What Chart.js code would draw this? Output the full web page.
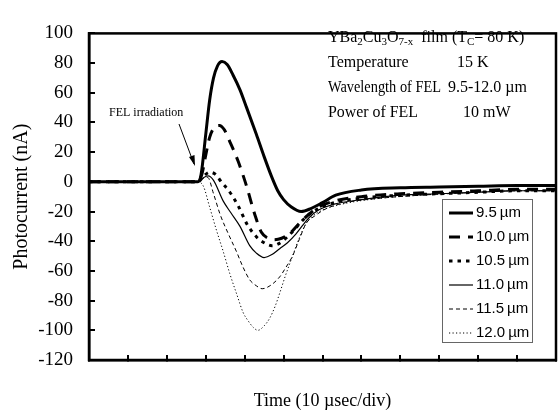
<!DOCTYPE html>
<html>
<head>
<meta charset="utf-8">
<script src="https://cdn.jsdelivr.net/npm/chart.js@4.4.0/dist/chart.umd.min.js"></script>
<style>
  html, body { margin: 0; padding: 0; background: #fff; }
</style>
</head>
<body>
<canvas id="photo" width="559" height="417"></canvas>
<script>
// time axis in divisions (10 usec/div), photocurrent in nA
const t95 = [0, 1, 2, 2.8, 2.88, 3.0, 3.1, 3.2, 3.3, 3.42, 3.55, 3.7, 3.88, 4.05, 4.3, 4.5, 4.7, 4.85, 5.0, 5.2, 5.45, 5.7, 6.0, 6.34, 7, 8, 9, 10, 11, 12];
const i95 = [0, 0, 0, 0, 5, 32, 55, 70, 78, 81, 79, 72, 62, 50, 32, 17, 3, -6, -12, -17, -20, -18, -14, -9, -5.5, -4, -3.5, -3, -2.5, -2.5];

const t100 = [0, 1, 2, 2.8, 2.9, 3.0, 3.1, 3.2, 3.35, 3.48, 3.62, 3.83, 4.05, 4.26, 4.43, 4.6, 4.75, 4.95, 5.15, 5.4, 5.6, 5.9, 6.3, 7, 8, 9, 10, 11, 12];
const i100 = [0, 0, 0, 0, 5, 18, 30, 36, 38, 35, 27, 14, -3, -22, -34, -38, -39, -38, -35, -28, -23, -17, -13, -10, -8, -7, -6, -5, -5];

const t105 = [0, 1, 2, 2.8, 2.95, 3.1, 3.25, 3.4, 3.62, 3.85, 4.05, 4.3, 4.5, 4.7, 4.85, 5.1, 5.35, 5.6, 5.9, 6.3, 7, 8, 9, 10, 11, 12];
const i105 = [0, 0, 0, 0, 4, 6.5, 5, 0, -7, -17, -28, -37, -41, -43, -42, -37, -30, -23, -18, -14, -11, -9, -8, -7, -6, -6];

const t110 = [0, 1, 2, 2.8, 2.95, 3.06, 3.2, 3.45, 3.65, 3.88, 4.13, 4.3, 4.5, 4.7, 4.9, 5.1, 5.32, 5.5, 5.66, 5.9, 6.3, 7, 8, 9, 10, 11, 12];
const i110 = [0, 0, 0, 0, 3, 4, 1, -13, -21, -30, -43, -48, -51, -49, -45, -41, -35, -29, -24, -19, -15, -12, -9, -8, -7, -6, -6];

const t115 = [0, 1, 2, 2.8, 2.9, 3.05, 3.2, 3.37, 3.58, 3.79, 3.95, 4.13, 4.3, 4.45, 4.65, 4.9, 5.05, 5.23, 5.4, 5.58, 5.8, 6.1, 6.6, 7.5, 8.5, 10, 11, 12];
const i115 = [0, 0, 0, 0, 2, 3, -8, -22, -35, -47, -57, -66, -70, -72, -70, -64, -58, -50, -39, -28, -23, -18, -14, -11, -9, -7, -6, -6];

const t120 = [0, 1, 2, 2.8, 2.94, 3.1, 3.28, 3.45, 3.62, 3.8, 3.96, 4.1, 4.22, 4.34, 4.5, 4.64, 4.78, 4.9, 5.05, 5.23, 5.4, 5.58, 5.75, 6.0, 6.5, 7.5, 8.5, 10, 11, 12];
const i120 = [0, 0, 0, 0, -3, -17, -33, -47, -62, -76, -88, -94, -98, -100, -97, -92, -84, -75, -63, -50, -38, -28, -23, -19, -15, -11, -9, -7, -6, -6];

const labels = ["9.5\u2009\u00b5m", "10.0\u2009\u00b5m", "10.5\u2009\u00b5m", "11.0\u2009\u00b5m", "11.5\u2009\u00b5m", "12.0\u2009\u00b5m"];

const infoLines = [
  ["Temperature", "15 K"],
  ["Wavelength of FEL", "9.5-12.0 \u00b5m"],
  ["Power of FEL", "10 mW"],
];

function pts(t, v) {
  return t.map((x, k) => ({ x: x, y: v[k] }));
}

function series(label, t, v, width, dash) {
  return {
    label: label,
    data: pts(t, v),
    borderColor: "#000",
    borderWidth: width,
    borderDash: dash,
    pointRadius: 0,
    fill: false,
    cubicInterpolationMode: "monotone",
  };
}

const SERIF = "'Liberation Serif', 'DejaVu Serif', serif";
const NARROW = "'Liberation Sans Narrow', 'Liberation Sans', sans-serif";

// plot frame (top + right sides) and all the text inside the plot
const decorPlugin = {
  id: "decor",
  afterDraw(chart) {
    const ctx = chart.ctx;
    const a = chart.chartArea;
    ctx.save();
    ctx.strokeStyle = "#000";
    ctx.lineWidth = 2.5;
    ctx.strokeRect(a.left, a.top, a.right - a.left, a.bottom - a.top);

    // sample description
    ctx.fillStyle = "#000";
    ctx.textBaseline = "middle";
    ctx.textAlign = "left";
    const parts = [
      ["YBa", 0], ["2", 1], ["Cu", 0], ["3", 1], ["O", 0], ["7-x", 1],
      ["  film (T", 0], ["C", 1], ["= 80 K)", 0],
    ];
    let x = 328;
    parts.forEach(([s, sub]) => {
      ctx.font = sub ? `11px ${SERIF}` : `16px ${SERIF}`;
      ctx.fillText(s, x, sub ? 42 : 38);
      x += ctx.measureText(s).width;
    });
    ctx.font = `16px ${SERIF}`;
    const col2 = [457, 448, 463];
    const maxW = [82, 113, 90];
    infoLines.forEach((ln, k) => {
      const y = 63 + k * 25;
      ctx.fillText(ln[0], 328, y, maxW[k]);
      ctx.fillText(ln[1], col2[k], y);
    });

    // FEL irradiation arrow
    ctx.font = `12px ${SERIF}`;
    ctx.fillText("FEL irradiation", 109, 113);
    ctx.lineWidth = 1;
    ctx.beginPath();
    ctx.moveTo(179, 124);
    ctx.lineTo(194, 164);
    ctx.stroke();
    ctx.beginPath();
    ctx.moveTo(195, 166);
    ctx.lineTo(189, 157);
    ctx.lineTo(194.5, 155);
    ctx.closePath();
    ctx.fill();

    // legend box
    ctx.fillStyle = "#fff";
    ctx.fillRect(442, 199, 90, 143);
    ctx.strokeStyle = "#666";
    ctx.lineWidth = 1;
    ctx.strokeRect(442.5, 199.5, 90, 143);
    ctx.font = `15px ${NARROW}`;
    chart.data.datasets.forEach((ds, k) => {
      const y = 213 + k * 24;
      ctx.strokeStyle = "#000";
      ctx.lineWidth = ds.borderWidth;
      ctx.setLineDash(ds.borderDash || []);
      ctx.beginPath();
      ctx.moveTo(449, y);
      ctx.lineTo(473, y);
      ctx.stroke();
      ctx.setLineDash([]);
      ctx.fillStyle = "#000";
      ctx.fillText(ds.label, 476, y);
    });
    ctx.restore();
  },
};

function photoChart() {
  const data = {
    datasets: [
      series(labels[0], t95, i95, 3, []),
      series(labels[1], t100, i100, 3, [11, 8]),
      series(labels[2], t105, i105, 3, [3.5, 5]),
      series(labels[3], t110, i110, 1.2, []),
      series(labels[4], t115, i115, 1, [4, 3]),
      series(labels[5], t120, i120, 1, [1.2, 2.3]),
    ],
  };

  const options = {
    responsive: false,
    animation: false,
    layout: { padding: { top: 15, right: 2, left: 0, bottom: 0 } },
    plugins: {
      legend: { display: false },
      tooltip: { enabled: false },
    },
    scales: {
      x: {
        type: "linear",
        min: 0,
        max: 12,
        ticks: { stepSize: 1, callback: () => "" },
        grid: { drawOnChartArea: false, tickLength: -5, lineWidth: 2, color: "#000" },
        border: { color: "#000", width: 2.5 },
        title: {
          display: true,
          text: "Time (10 \u00b5sec/div)",
          font: { family: SERIF, size: 18 },
          color: "#000",
          padding: { top: 0, bottom: 5 },
        },
        afterFit(scale) {
          scale.height = 57;
        },
      },
      y: {
        min: -120,
        max: 100,
        ticks: { stepSize: 20, color: "#000", padding: 22, font: { family: SERIF, size: 19 } },
        grid: { drawOnChartArea: false, tickLength: -6, lineWidth: 2, color: "#000" },
        border: { color: "#000", width: 2.5 },
        title: {
          display: true,
          text: "Photocurrent (nA)",
          font: { family: SERIF, size: 20 },
          color: "#000",
          padding: { top: 10, bottom: 0 },
        },
        afterFit(scale) {
          scale.width = 89;
        },
      },
    },
  };

  new Chart(document.getElementById("photo"), {
    type: "line",
    data: data,
    options: options,
    plugins: [decorPlugin],
  });
}
photoChart();
</script>
</body>
</html>
